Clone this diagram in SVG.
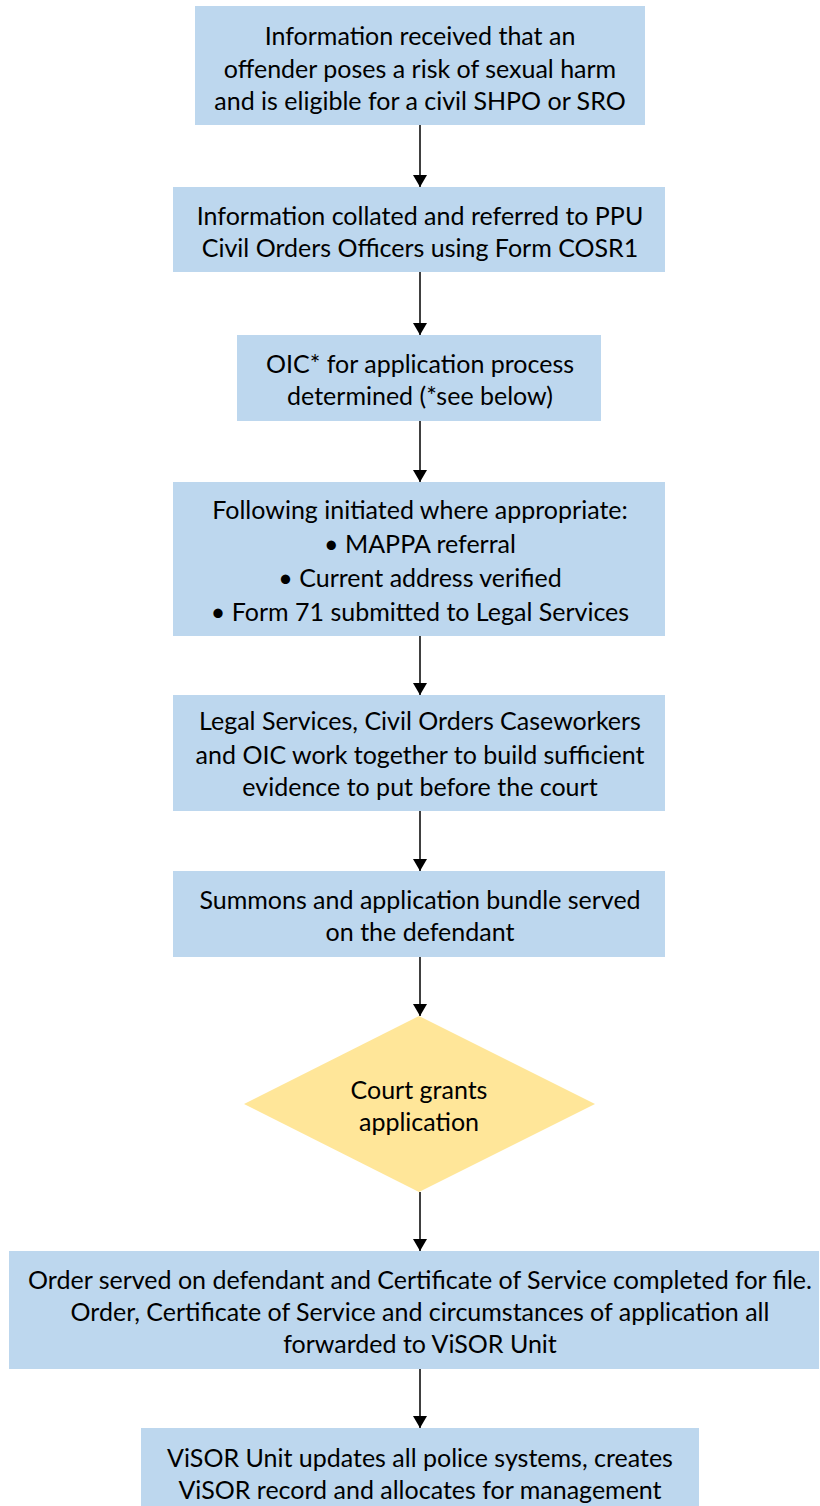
<svg xmlns="http://www.w3.org/2000/svg" width="820" height="1506" viewBox="0 0 820 1506">
<style>
.box{fill:#BDD7EE;stroke:none}
.dia{fill:#FFE699;stroke:none}
text{font-family:Lato,"Liberation Sans",sans-serif;font-size:25px;fill:#000;text-anchor:middle;dominant-baseline:central}
.conn line{stroke:#000;stroke-width:1.5;marker-end:url(#ah)}
</style>
<defs>
<marker id="ah" viewBox="0 0 12 14" refX="12" refY="7" markerWidth="12" markerHeight="14" markerUnits="userSpaceOnUse" orient="auto">
<path d="M0,0 L12,7 L0,14 Z" fill="#000"/>
</marker>
</defs>
<rect width="820" height="1506" fill="#fff"/>
<g id="n1"><rect class="box" x="195" y="6" width="450" height="119"/>
<text x="420" y="35">Information received that an</text>
<text x="420" y="68">offender poses a risk of sexual harm</text>
<text x="420" y="100">and is eligible for a civil SHPO or SRO</text></g>
<g id="n2"><rect class="box" x="173" y="187" width="492" height="85"/>
<text x="420" y="215">Information collated and referred to PPU</text>
<text x="420" y="247">Civil Orders Officers using Form COSR1</text></g>
<g id="n3"><rect class="box" x="237" y="335" width="364" height="86"/>
<text x="420" y="363">OIC* for application process</text>
<text x="420" y="395">determined (*see below)</text></g>
<g id="n4"><rect class="box" x="173" y="482" width="492" height="154"/>
<text x="420" y="509">Following initiated where appropriate:</text>
<text x="420" y="543">• MAPPA referral</text>
<text x="420" y="577">• Current address verified</text>
<text x="420" y="611">• Form 71 submitted to Legal Services</text></g>
<g id="n5"><rect class="box" x="173" y="695" width="492" height="116"/>
<text x="420" y="720">Legal Services, Civil Orders Caseworkers</text>
<text x="420" y="754">and OIC work together to build sufficient</text>
<text x="420" y="786">evidence to put before the court</text></g>
<g id="n6"><rect class="box" x="173" y="871" width="492" height="86"/>
<text x="420" y="899">Summons and application bundle served</text>
<text x="420" y="931">on the defendant</text></g>
<g id="n7"><polygon class="dia" points="419,1016 595,1104 419,1192 244,1104"/>
<text x="419" y="1089">Court grants</text>
<text x="419" y="1121">application</text></g>
<g id="n8"><rect class="box" x="9" y="1251" width="810" height="118"/>
<text x="420" y="1279">Order served on defendant and Certificate of Service completed for file.</text>
<text x="420" y="1311">Order, Certificate of Service and circumstances of application all</text>
<text x="420" y="1343">forwarded to ViSOR Unit</text></g>
<g id="n9"><rect class="box" x="141" y="1428" width="558" height="78"/>
<text x="420" y="1457">ViSOR Unit updates all police systems, creates</text>
<text x="420" y="1489">ViSOR record and allocates for management</text></g>
<g class="conn" id="connectors">
<line x1="420" y1="125" x2="420" y2="187"/>
<line x1="420" y1="272" x2="420" y2="335"/>
<line x1="420" y1="421" x2="420" y2="482"/>
<line x1="420" y1="636" x2="420" y2="695"/>
<line x1="420" y1="811" x2="420" y2="871"/>
<line x1="420" y1="957" x2="420" y2="1016"/>
<line x1="420" y1="1192" x2="420" y2="1251"/>
<line x1="420" y1="1369" x2="420" y2="1428"/>
</g>
</svg>
